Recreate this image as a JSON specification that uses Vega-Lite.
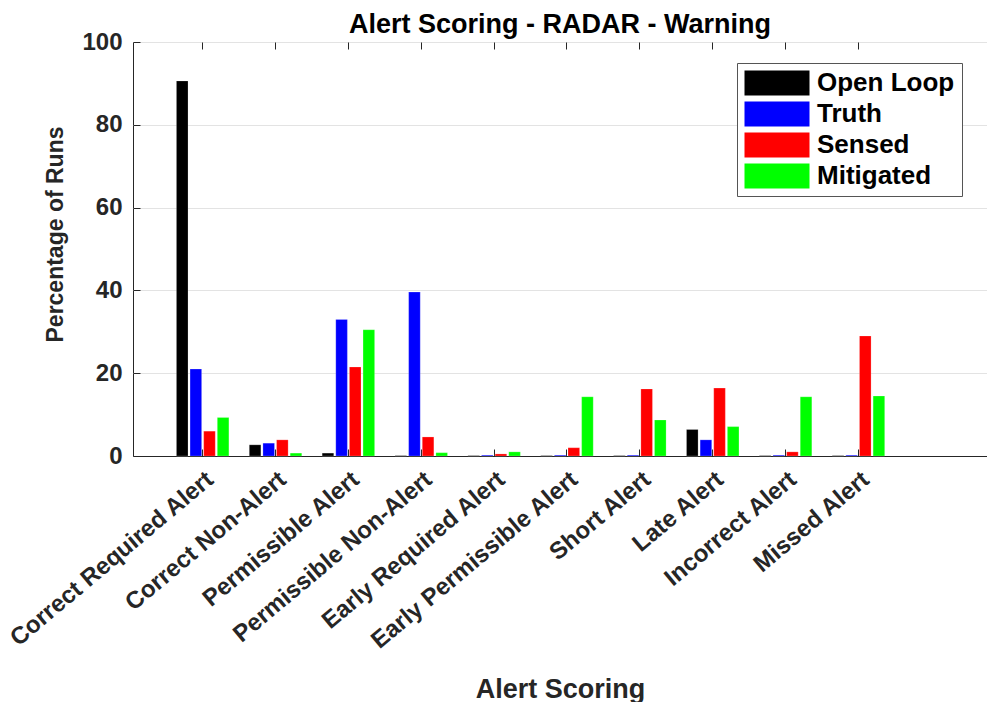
{
  "$schema": "https://vega.github.io/schema/vega-lite/v6.json",
  "autosize": {"type": "none"},
  "padding": {"left": 133, "top": 42, "right": 0, "bottom": 246},
  "width": 854,
  "height": 414,
  "background": "white",
  "title": {
    "text": "Alert Scoring - RADAR - Warning",
    "font": "Liberation Sans",
    "fontSize": 27,
    "fontWeight": "bold",
    "color": "#000000",
    "anchor": "middle",
    "offset": -9
  },
  "config": {
    "view": {"stroke": "#262626", "strokeWidth": 1},
    "font": "Liberation Sans"
  },
  "data": {
    "values": [
      {"category": "Correct Required Alert", "series": "Open Loop", "value": 90.6},
      {"category": "Correct Required Alert", "series": "Truth", "value": 21.0},
      {"category": "Correct Required Alert", "series": "Sensed", "value": 6.0},
      {"category": "Correct Required Alert", "series": "Mitigated", "value": 9.3},
      {"category": "Correct Non-Alert", "series": "Open Loop", "value": 2.7},
      {"category": "Correct Non-Alert", "series": "Truth", "value": 3.1},
      {"category": "Correct Non-Alert", "series": "Sensed", "value": 3.9},
      {"category": "Correct Non-Alert", "series": "Mitigated", "value": 0.7},
      {"category": "Permissible Alert", "series": "Open Loop", "value": 0.7},
      {"category": "Permissible Alert", "series": "Truth", "value": 33.0},
      {"category": "Permissible Alert", "series": "Sensed", "value": 21.5},
      {"category": "Permissible Alert", "series": "Mitigated", "value": 30.5},
      {"category": "Permissible Non-Alert", "series": "Open Loop", "value": 0.1},
      {"category": "Permissible Non-Alert", "series": "Truth", "value": 39.6},
      {"category": "Permissible Non-Alert", "series": "Sensed", "value": 4.6},
      {"category": "Permissible Non-Alert", "series": "Mitigated", "value": 0.8},
      {"category": "Early Required Alert", "series": "Open Loop", "value": 0.1},
      {"category": "Early Required Alert", "series": "Truth", "value": 0.2},
      {"category": "Early Required Alert", "series": "Sensed", "value": 0.5},
      {"category": "Early Required Alert", "series": "Mitigated", "value": 1.0},
      {"category": "Early Permissible Alert", "series": "Open Loop", "value": 0.1},
      {"category": "Early Permissible Alert", "series": "Truth", "value": 0.2},
      {"category": "Early Permissible Alert", "series": "Sensed", "value": 2.0},
      {"category": "Early Permissible Alert", "series": "Mitigated", "value": 14.3},
      {"category": "Short Alert", "series": "Open Loop", "value": 0.1},
      {"category": "Short Alert", "series": "Truth", "value": 0.2},
      {"category": "Short Alert", "series": "Sensed", "value": 16.2},
      {"category": "Short Alert", "series": "Mitigated", "value": 8.7},
      {"category": "Late Alert", "series": "Open Loop", "value": 6.4},
      {"category": "Late Alert", "series": "Truth", "value": 3.9},
      {"category": "Late Alert", "series": "Sensed", "value": 16.4},
      {"category": "Late Alert", "series": "Mitigated", "value": 7.1},
      {"category": "Incorrect Alert", "series": "Open Loop", "value": 0.1},
      {"category": "Incorrect Alert", "series": "Truth", "value": 0.2},
      {"category": "Incorrect Alert", "series": "Sensed", "value": 1.0},
      {"category": "Incorrect Alert", "series": "Mitigated", "value": 14.3},
      {"category": "Missed Alert", "series": "Open Loop", "value": 0.1},
      {"category": "Missed Alert", "series": "Truth", "value": 0.2},
      {"category": "Missed Alert", "series": "Sensed", "value": 29.0},
      {"category": "Missed Alert", "series": "Mitigated", "value": 14.5}
    ]
  },
  "encoding": {
    "x": {
      "field": "category",
      "type": "nominal",
      "sort": null,
      "scale": {"paddingInner": 0.28, "paddingOuter": 1.075, "align": 0.298}
    }
  },
  "layer": [
    {
      "mark": {"type": "bar", "stroke": "#ffffff", "strokeOpacity": 0.35, "strokeWidth": 0.6},
      "encoding": {
        "x": {
          "field": "category",
          "type": "nominal",
          "sort": null,
          "axis": {
            "orient": "bottom",
            "title": "Alert Scoring",
            "titleFont": "Liberation Sans",
            "titleFontSize": 27,
            "titleFontWeight": "bold",
            "titleColor": "#262626",
            "titleBaseline": "alphabetic",
            "titleAnchor": "middle",
            "titleY": 241,
            "labelAngle": -40,
            "labelFont": "Liberation Sans",
            "labelFontSize": 24,
            "labelFontWeight": "bold",
            "labelColor": "#262626",
            "labelPadding": 18,
            "labelOffset": 0,
            "labelLimit": 0,
            "labelOverlap": false,
            "domain": true,
            "domainColor": "#262626",
            "tickSize": -7,
            "tickColor": "#262626",
            "grid": false
          }
        },
        "xOffset": {
          "field": "series",
          "type": "nominal",
          "sort": ["Open Loop", "Truth", "Sensed", "Mitigated"],
          "scale": {"paddingInner": 0.15, "paddingOuter": 0}
        },
        "y": {
          "field": "value",
          "type": "quantitative",
          "scale": {"domain": [0, 100], "nice": false},
          "axis": {
            "title": "Percentage of Runs",
            "titleFont": "Liberation Sans",
            "titleFontSize": 23,
            "titleFontWeight": "bold",
            "titleColor": "#262626",
            "titleX": -78,
            "titleY": 192,
            "titleBaseline": "middle",
            "titleAngle": -90,
            "values": [0, 20, 40, 60, 80, 100],
            "labelFont": "Liberation Sans",
            "labelFontSize": 24,
            "labelFontWeight": "bold",
            "labelColor": "#262626",
            "labelPadding": 18,
            "domain": false,
            "tickSize": -7,
            "tickColor": "#262626",
            "grid": true,
            "gridColor": "#e3e3e3",
            "gridWidth": 1
          }
        },
        "color": {
          "field": "series",
          "type": "nominal",
          "sort": ["Open Loop", "Truth", "Sensed", "Mitigated"],
          "scale": {
            "domain": ["Open Loop", "Truth", "Sensed", "Mitigated"],
            "range": ["#000000", "#0000ff", "#ff0000", "#00ff00"]
          },
          "legend": {
            "title": null,
            "orient": "none",
            "legendX": 604,
            "legendY": 21,
            "direction": "vertical",
            "padding": 7,
            "fillColor": "#ffffff",
            "strokeColor": "#555555",
            "symbolType": "M-1,-1H4.2V1H-1Z",
            "symbolSize": 625,
            "symbolStrokeWidth": 0,
            "symbolOpacity": 1,
            "labelFont": "Liberation Sans",
            "labelFontSize": 26,
            "labelFontWeight": "bold",
            "labelColor": "#000000",
            "labelOffset": 47,
            "rowPadding": 5,
            "labelLimit": 0
          }
        }
      }
    },
    {
      "mark": {"type": "rule", "opacity": 0},
      "encoding": {
        "x": {
          "field": "category",
          "type": "nominal",
          "sort": null,
          "axis": {
            "orient": "top",
            "title": null,
            "labels": false,
            "domain": false,
            "tickSize": -7,
            "tickColor": "#262626",
            "grid": false
          }
        }
      }
    }
  ],
  "resolve": {"axis": {"x": "independent"}}
}
